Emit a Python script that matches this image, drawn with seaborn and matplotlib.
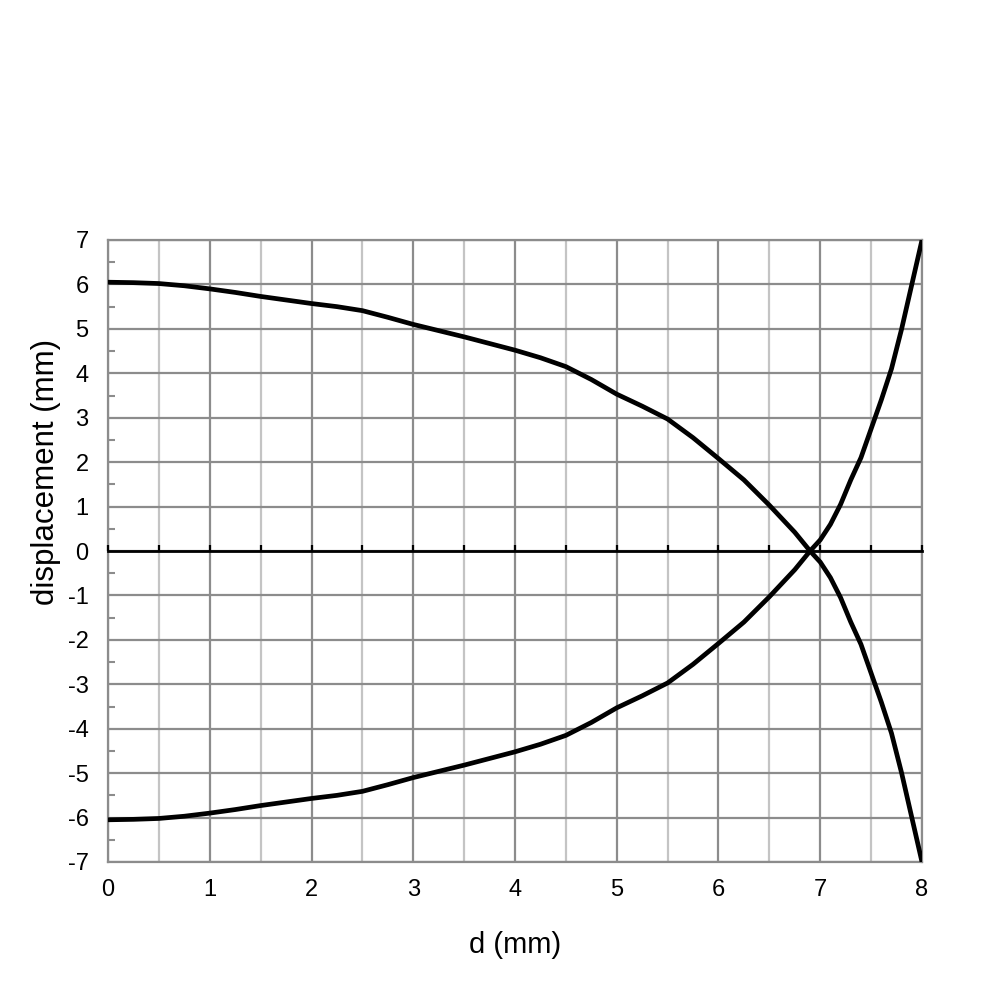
import numpy as np
import matplotlib
matplotlib.use("Agg")
import matplotlib.pyplot as plt
import seaborn as sns
import pandas as pd
from matplotlib.ticker import MultipleLocator

# values
d_mm = [0, 0.25, 0.5, 0.75, 1, 1.25, 1.5, 1.75, 2, 2.25, 2.5, 2.75, 3, 3.25, 3.5, 3.75,
        4, 4.25, 4.5, 4.75, 5, 5.25, 5.5, 5.75, 6, 6.25, 6.5, 6.75, 6.9, 7, 7.1, 7.2,
        7.3, 7.4, 7.5, 7.6, 7.7, 7.8, 7.9, 8]
upper = [6.05, 6.04, 6.02, 5.97, 5.9, 5.82, 5.73, 5.65, 5.57, 5.5, 5.41, 5.26, 5.1, 4.96, 4.82, 4.67,
         4.52, 4.35, 4.15, 3.86, 3.53, 3.26, 2.97, 2.55, 2.08, 1.6, 1.03, 0.42, 0.0, -0.25, -0.6, -1.05,
         -1.6, -2.1, -2.75, -3.4, -4.1, -5.0, -6.0, -7.0]
lower = [-6.05, -6.04, -6.02, -5.97, -5.9, -5.82, -5.73, -5.65, -5.57, -5.5, -5.41, -5.26, -5.1, -4.96, -4.82, -4.67,
         -4.52, -4.35, -4.15, -3.86, -3.53, -3.26, -2.97, -2.55, -2.08, -1.6, -1.03, -0.42, 0.0, 0.25, 0.6, 1.05,
         1.6, 2.1, 2.75, 3.4, 4.1, 5.0, 6.0, 7.0]

df = pd.DataFrame({
    "d": d_mm + d_mm,
    "disp": upper + lower,
    "curve": ["upper"] * len(d_mm) + ["lower"] * len(d_mm),
})

sns.set_style("white")
plt.rcParams["font.family"] = ["Liberation Sans", "DejaVu Sans"]
plt.rcParams["axes.unicode_minus"] = False
plt.rcParams["text.color"] = "black"
plt.rcParams["axes.labelcolor"] = "black"
plt.rcParams["xtick.color"] = "black"
plt.rcParams["ytick.color"] = "black"
plt.rcParams["lines.solid_capstyle"] = "round"
plt.rcParams["lines.solid_joinstyle"] = "round"

fig = plt.figure(figsize=(10, 10), dpi=100)
ax = fig.add_axes([0.108, 0.138, 0.814, 0.622])

sns.lineplot(data=df, x="d", y="disp", units="curve", estimator=None,
             color="black", linewidth=3.4, ax=ax, zorder=5)

ax.set_xlim(0, 8)
ax.set_ylim(-7, 7)
ax.xaxis.set_major_locator(MultipleLocator(1))
ax.xaxis.set_minor_locator(MultipleLocator(0.5))
ax.yaxis.set_major_locator(MultipleLocator(1))
ax.yaxis.set_minor_locator(MultipleLocator(0.5))

ax.grid(which="major", axis="both", color="#8c8c8c", linewidth=1.6)
ax.grid(which="minor", axis="x", color="#c4c4c4", linewidth=1.6)
ax.set_axisbelow(True)
for s in ax.spines.values():
    s.set_color("#8c8c8c")
    s.set_linewidth(1.6)

ax.tick_params(axis="x", which="both", length=0, pad=12, labelsize=17)
ax.tick_params(axis="y", which="major", length=0, pad=14, labelsize=17)
ax.tick_params(axis="y", which="minor", direction="in", length=5, color="#8c8c8c", width=1.5, left=True)

# horizontal axis crossing at zero, with small tick marks
zero_ax = ax.secondary_xaxis(0.5)
zero_ax.set_zorder(4)
zero_ax.xaxis.set_major_locator(MultipleLocator(0.5))
zero_ax.tick_params(axis="x", direction="out", length=4, width=1.6, color="black",
                    top=True, bottom=False, labeltop=False, labelbottom=False)
for s in zero_ax.spines.values():
    s.set_color("black")
    s.set_linewidth(2)

ax.set_xlabel("d (mm)", fontsize=21, labelpad=22)
ax.set_ylabel("displacement (mm)", fontsize=22.5)
ax.yaxis.set_label_coords(-0.058, 0.627)

plt.savefig("out.png", dpi=100)
